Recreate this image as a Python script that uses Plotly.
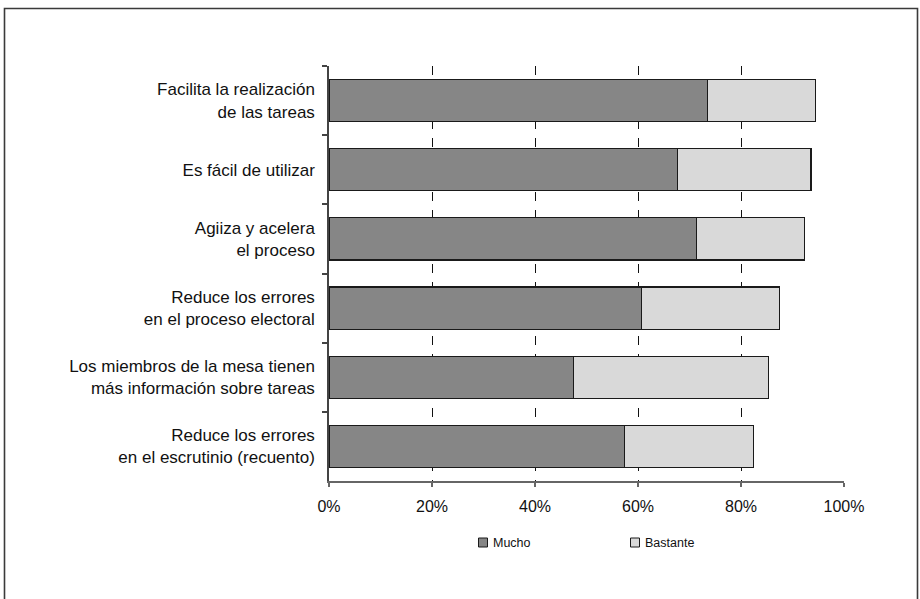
import plotly.graph_objects as go

categories = [
    "Facilita la realización<br>de las tareas",
    "Es fácil de utilizar",
    "Agiiza y acelera<br>el proceso",
    "Reduce los errores<br>en el proceso electoral",
    "Los miembros de la mesa tienen<br>más información sobre tareas",
    "Reduce los errores<br>en el escrutinio (recuento)",
]
mucho = [73.5, 67.7, 71.4, 60.7, 47.5, 57.4]
bastante = [20.9, 25.9, 21.0, 26.8, 37.9, 25.1]
x_ticks = [0, 20, 40, 60, 80, 100]
x_tick_labels = ["0%", "20%", "40%", "60%", "80%", "100%"]

series_names = ["Mucho", "Bastante"]
series_colors = ["#868686", "#d9d9d9"]
OUTLINE = "#1a1a1a"

FONT = "Liberation Sans, Arial, Helvetica, sans-serif"

fig = go.Figure()
for name, vals, col in zip(series_names, [mucho, bastante], series_colors):
    fig.add_trace(go.Bar(
        y=categories, x=vals, name=name, orientation="h",
        marker=dict(color=col, line=dict(color=OUTLINE, width=1.2)),
        width=0.61,
    ))

W, H = 920, 599
L, R, T, B = 329, 76, 66, 118
pw, ph = W - L - R, H - T - B

def px_x(p):
    return (p - L) / pw

def px_y(p):
    return (H - B - p) / ph

# outer frame around the whole figure
fig.add_shape(
    type="path", xref="paper", yref="paper",
    path=f"M {px_x(4.5)} {px_y(640)} L {px_x(4.5)} {px_y(8.5)} L {px_x(917.5)} {px_y(8.5)} L {px_x(917.5)} {px_y(640)}",
    line=dict(color="#3a3a3a", width=1.6),
)

# legend: small swatch followed by its label
legend_x = [478.5, 630.5]
for name, col, lx in zip(series_names, series_colors, legend_x):
    fig.add_shape(
        type="rect", xref="paper", yref="paper",
        x0=px_x(lx), x1=px_x(lx + 9), y0=px_y(538), y1=px_y(547),
        fillcolor=col, line=dict(color=OUTLINE, width=1),
    )
    fig.add_annotation(
        xref="paper", yref="paper", x=px_x(lx + 12.5), y=px_y(542.5),
        text=name, showarrow=False, xanchor="left", yanchor="middle",
        font=dict(size=12.5, family=FONT, color="#111111"),
    )

fig.update_layout(
    width=W, height=H,
    margin=dict(l=L, r=R, t=T, b=B, pad=0),
    paper_bgcolor="white", plot_bgcolor="white",
    barmode="stack",
    font=dict(family=FONT, color="#111111"),
    showlegend=False,
    xaxis=dict(
        range=[0, 100],
        tickvals=x_ticks, ticktext=x_tick_labels,
        showgrid=True, gridcolor="#111111", gridwidth=1.2, griddash="dash",
        zeroline=False,
        showline=True, linecolor="#666666", linewidth=1.5,
        ticks="outside", ticklen=4, tickcolor="#666666", tickwidth=1.5,
        ticklabelstandoff=6,
        tickfont=dict(size=16, family=FONT, color="#111111"),
        fixedrange=True,
    ),
    yaxis=dict(
        categoryorder="array", categoryarray=categories,
        autorange="reversed",
        showgrid=False, zeroline=False,
        showline=True, linecolor="#444444", linewidth=1.5,
        ticks="outside", ticklen=5, tickcolor="#444444", tickwidth=1.5,
        tickson="boundaries",
        ticklabelstandoff=9,
        tickfont=dict(size=17, family=FONT, color="#111111"),
        fixedrange=True,
    ),
)

fig.write_html("out.html")
